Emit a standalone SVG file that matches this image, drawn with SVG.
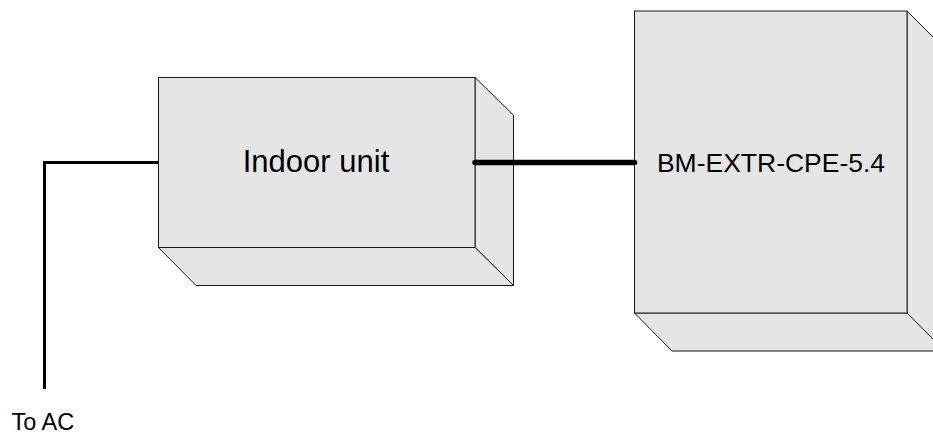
<svg xmlns="http://www.w3.org/2000/svg" width="933" height="435" viewBox="0 0 933 435">
<style>
.face{fill:#e5e5e5;stroke:#1a1a1a;stroke-width:1;stroke-linejoin:miter}
.lbl{font-family:"Liberation Sans",Arial,sans-serif;fill:#000}
.wire{fill:none;stroke:#000;stroke-width:3}
.thick{fill:none;stroke:#000;stroke-width:5.5;stroke-linecap:round}
</style>
<rect width="933" height="435" fill="#fff"/>
<g id="indoor-unit">
<polygon class="face" points="475,77.5 513.5,115 513.5,285.5 475,247.5"/>
<polygon class="face" points="158.5,247.5 196,285.5 513.5,285.5 475,247.5"/>
<rect class="face" x="158.5" y="77.5" width="316.5" height="170"/>
<text class="lbl" x="316" y="171.5" font-size="31" text-anchor="middle">Indoor unit</text>
</g>
<g id="cpe">
<polygon class="face" points="907,11 945,49 945,351 907,313"/>
<polygon class="face" points="634.5,313 672,351 945,351 907,313"/>
<rect class="face" x="634.5" y="11" width="272.5" height="302"/>
<text class="lbl" x="771" y="171.5" font-size="26.5" text-anchor="middle">BM-EXTR-CPE-5.4</text>
</g>
<g id="connectors">
<polyline class="wire" points="158.5,162.5 44.5,162.5 44.5,389"/>
<line class="thick" x1="475" y1="162.5" x2="634.5" y2="162.5"/>
</g>
<text class="lbl" x="11.5" y="429.5" font-size="23.5">To AC</text>
</svg>
